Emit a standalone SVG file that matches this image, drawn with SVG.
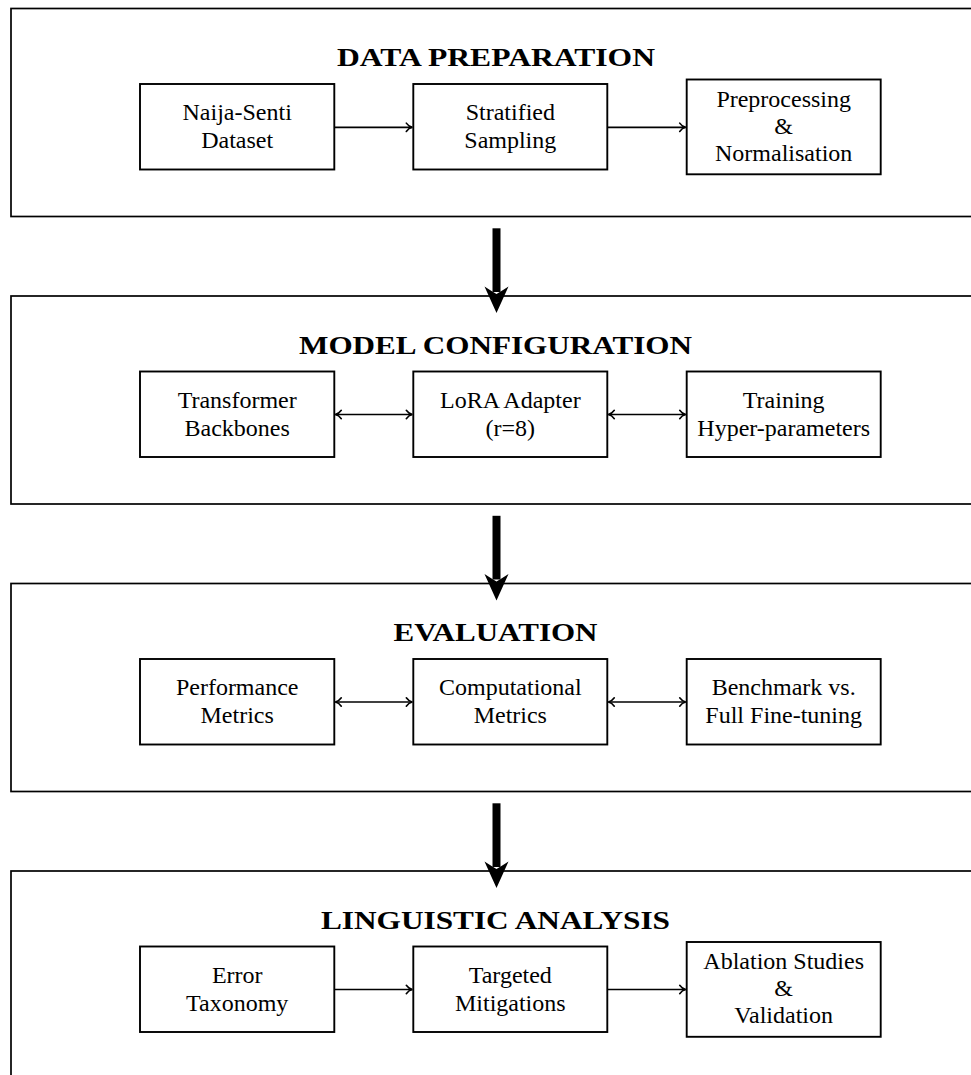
<svg xmlns="http://www.w3.org/2000/svg" width="971" height="1075" viewBox="0 0 971 1075">
<style>
.outer{fill:none;stroke:#000;stroke-width:1.7}
.box{fill:#fff;stroke:#000;stroke-width:1.9}
.title{font-family:"Liberation Serif","Times New Roman",serif;font-weight:bold;font-size:25px;text-anchor:middle;fill:#000}
.lbl{font-family:"Liberation Serif","Times New Roman",serif;font-size:24px;text-anchor:middle;fill:#000}
.conn{fill:none;stroke:#000;stroke-width:1.7}
.big{fill:none;stroke:#000;stroke-width:8}
.head{fill:#000}
</style>
<defs>
<marker id="to" markerUnits="userSpaceOnUse" viewBox="-8 -6 10 12" refX="0" refY="0" markerWidth="10" markerHeight="12" orient="auto-start-reverse">
<path d="M -6 -4.2 C -4.2 -1.6 -1.6 -0.3 0 0 C -1.6 0.3 -4.2 1.6 -6 4.2" fill="none" stroke="#000" stroke-width="1.6" stroke-linecap="round"/>
</marker>
</defs>

<g id="stage-data-preparation">
<rect class="outer" x="11" y="8.5" width="990" height="208"/>
<text class="title" x="496" y="66" textLength="318" lengthAdjust="spacingAndGlyphs">DATA PREPARATION</text>
</g>
<g id="node-naija-senti">
<rect class="box" x="140" y="84" width="194.3" height="85.5"/>
<text class="lbl" x="237.2" y="120">Naija-Senti</text>
<text class="lbl" x="237.2" y="148">Dataset</text>
</g>
<g id="node-stratified">
<rect class="box" x="413.3" y="84" width="194" height="85.5"/>
<text class="lbl" x="510.3" y="120">Stratified</text>
<text class="lbl" x="510.3" y="148">Sampling</text>
</g>
<g id="node-preprocessing">
<rect class="box" x="686.7" y="79.5" width="194" height="94.8"/>
<text class="lbl" x="783.7" y="106.5">Preprocessing</text>
<text class="lbl" x="783.7" y="133.5">&amp;</text>
<text class="lbl" x="783.7" y="160.5">Normalisation</text>
</g>

<g id="stage-model-configuration">
<rect class="outer" x="11" y="296" width="990" height="208"/>
<text class="title" x="495.5" y="353.5" textLength="393" lengthAdjust="spacingAndGlyphs">MODEL CONFIGURATION</text>
</g>
<g id="node-transformer">
<rect class="box" x="140" y="371.5" width="194.3" height="85.5"/>
<text class="lbl" x="237.2" y="407.5">Transformer</text>
<text class="lbl" x="237.2" y="435.5">Backbones</text>
</g>
<g id="node-lora">
<rect class="box" x="413.3" y="371.5" width="194" height="85.5"/>
<text class="lbl" x="510.3" y="407.5">LoRA Adapter</text>
<text class="lbl" x="510.3" y="435.5">(r=8)</text>
</g>
<g id="node-training">
<rect class="box" x="686.7" y="371.5" width="194" height="85.5"/>
<text class="lbl" x="783.7" y="407.5">Training</text>
<text class="lbl" x="783.7" y="435.5">Hyper-parameters</text>
</g>

<g id="stage-evaluation">
<rect class="outer" x="11" y="583.5" width="990" height="208"/>
<text class="title" x="495.5" y="641" textLength="204" lengthAdjust="spacingAndGlyphs">EVALUATION</text>
</g>
<g id="node-performance">
<rect class="box" x="140" y="659" width="194.3" height="85.5"/>
<text class="lbl" x="237.2" y="695">Performance</text>
<text class="lbl" x="237.2" y="723">Metrics</text>
</g>
<g id="node-computational">
<rect class="box" x="413.3" y="659" width="194" height="85.5"/>
<text class="lbl" x="510.3" y="695">Computational</text>
<text class="lbl" x="510.3" y="723">Metrics</text>
</g>
<g id="node-benchmark">
<rect class="box" x="686.7" y="659" width="194" height="85.5"/>
<text class="lbl" x="783.7" y="695">Benchmark vs.</text>
<text class="lbl" x="783.7" y="723">Full Fine-tuning</text>
</g>

<g id="stage-linguistic-analysis">
<rect class="outer" x="11" y="871" width="990" height="208"/>
<text class="title" x="495.5" y="928.5" textLength="349" lengthAdjust="spacingAndGlyphs">LINGUISTIC ANALYSIS</text>
</g>
<g id="node-error">
<rect class="box" x="140" y="946.5" width="194.3" height="85.5"/>
<text class="lbl" x="237.2" y="982.5">Error</text>
<text class="lbl" x="237.2" y="1010.5">Taxonomy</text>
</g>
<g id="node-targeted">
<rect class="box" x="413.3" y="946.5" width="194" height="85.5"/>
<text class="lbl" x="510.3" y="982.5">Targeted</text>
<text class="lbl" x="510.3" y="1010.5">Mitigations</text>
</g>
<g id="node-ablation">
<rect class="box" x="686.7" y="942" width="194" height="94.8"/>
<text class="lbl" x="783.7" y="969">Ablation Studies</text>
<text class="lbl" x="783.7" y="996">&amp;</text>
<text class="lbl" x="783.7" y="1023">Validation</text>
</g>

<g id="connectors">
<line class="conn" x1="334.3" y1="127.3" x2="412.3" y2="127.3" marker-end="url(#to)"/>
<line class="conn" x1="607.3" y1="127.3" x2="685.7" y2="127.3" marker-end="url(#to)"/>
<line class="conn" x1="335.3" y1="414.5" x2="412.3" y2="414.5" marker-start="url(#to)" marker-end="url(#to)"/>
<line class="conn" x1="608.3" y1="414.5" x2="685.7" y2="414.5" marker-start="url(#to)" marker-end="url(#to)"/>
<line class="conn" x1="335.3" y1="702" x2="412.3" y2="702" marker-start="url(#to)" marker-end="url(#to)"/>
<line class="conn" x1="608.3" y1="702" x2="685.7" y2="702" marker-start="url(#to)" marker-end="url(#to)"/>
<line class="conn" x1="334.3" y1="989.5" x2="412.3" y2="989.5" marker-end="url(#to)"/>
<line class="conn" x1="607.3" y1="989.5" x2="685.7" y2="989.5" marker-end="url(#to)"/>

<line class="big" x1="496.5" y1="228.3" x2="496.5" y2="292"/>
<path class="head" d="M 496.5 313 L 508.5 286.5 Q 500 292 496.5 294 Q 493 292 484.5 286.5 Z"/>
<line class="big" x1="496.5" y1="515.8" x2="496.5" y2="579.5"/>
<path class="head" d="M 496.5 600.5 L 508.5 574 Q 500 579.5 496.5 581.5 Q 493 579.5 484.5 574 Z"/>
<line class="big" x1="496.5" y1="803.3" x2="496.5" y2="867"/>
<path class="head" d="M 496.5 888 L 508.5 861.5 Q 500 867 496.5 869 Q 493 867 484.5 861.5 Z"/>
</g>
</svg>
